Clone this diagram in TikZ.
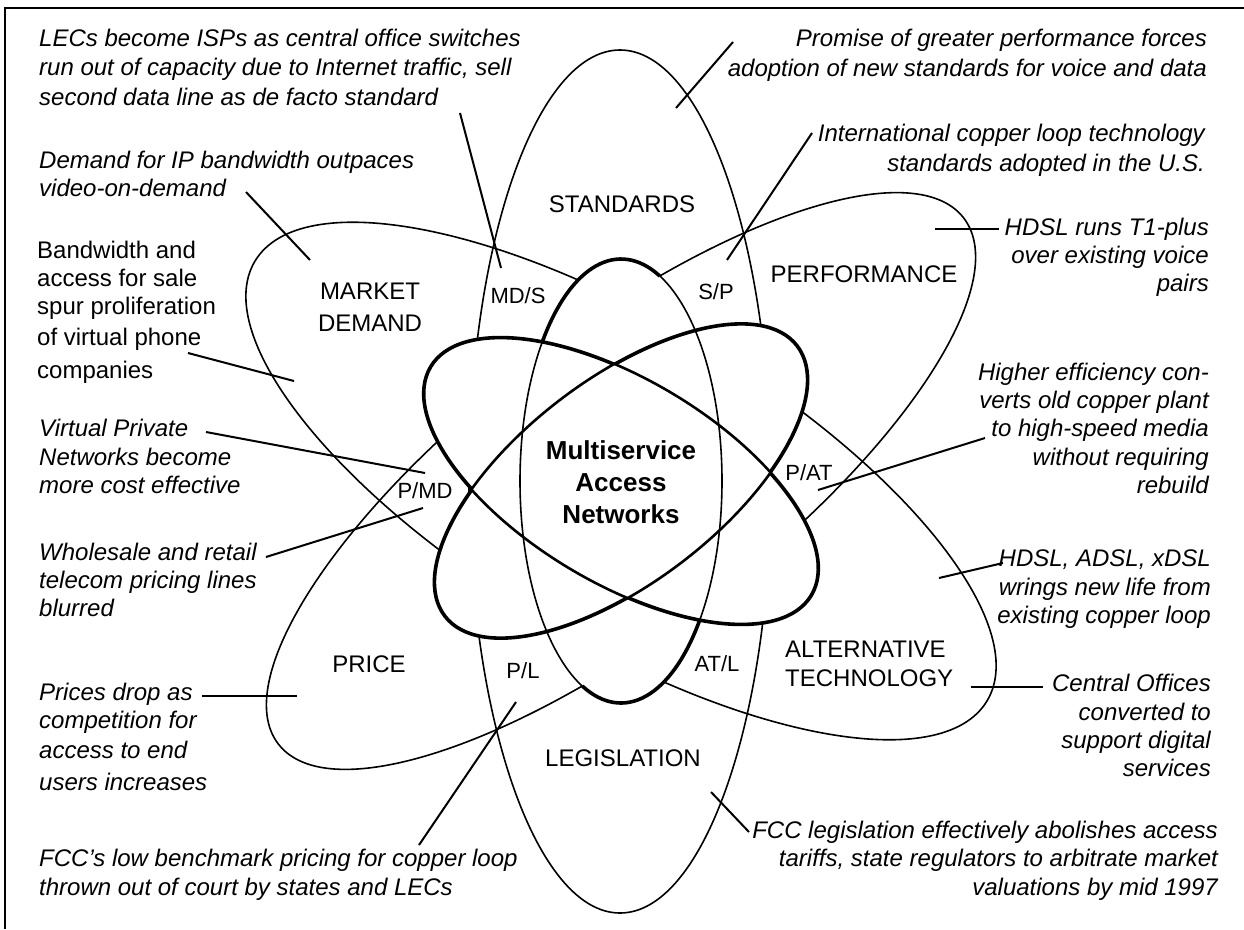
\documentclass[tikz,border=0pt]{standalone}
\usepackage{fontspec}
\setmainfont{Liberation Sans}
\begin{document}
\begin{tikzpicture}[x=1pt, y=-1pt,
  thinline/.style={line width=1.6pt},
  heavyline/.style={line width=3.6pt},
  leader/.style={line width=2pt},
  note/.style={inner sep=0pt, font=\fontsize{24}{29}\selectfont\itshape},
  remark/.style={inner sep=0pt, font=\fontsize{24}{29}\selectfont},
  field/.style={inner sep=0pt, anchor=base, font=\fontsize{24}{29}\selectfont},
  overlap/.style={inner sep=0pt, anchor=base, font=\fontsize{22}{26}\selectfont},
  hub/.style={inner sep=0pt, anchor=base, font=\fontsize{26}{32}\selectfont\bfseries},
  ringA/.style={shift={(621,481)}, rotate=-31},
  ringB/.style={shift={(621,481)}, rotate=37.5},
]
\useasboundingbox (0,0) rectangle (1244,929);
% frame
\draw[line width=2.5pt] (5,929) -- (5,8) -- (1244,8);

% outer rings: standards/legislation, market demand/alternative technology, performance/price
\draw[thinline] (620,481.5) ellipse [x radius=151, y radius=431.5];
\draw[thinline, ringA] (0,0) ellipse [x radius=427, y radius=159];
\draw[thinline, ringB] (0,0) ellipse [x radius=432, y radius=149];

% central atom: blank its area, heavy contour of the two slanted rings,
% thin crossings inside, heavy caps on the upright ring
\fill[white] (621,481) ellipse [x radius=101, y radius=222];
\fill[white, ringA] (0,0) ellipse [x radius=222, y radius=101];
\fill[white, ringB] (0,0) ellipse [x radius=222, y radius=101];
\draw[heavyline, ringA] (0,0) ellipse [x radius=222, y radius=101];
\draw[heavyline, ringB] (0,0) ellipse [x radius=222, y radius=101];
\begin{scope}
  \clip[ringA] (0,0) ellipse [x radius=222, y radius=101];
  \fill[white, ringB] (0,0) ellipse [x radius=222, y radius=101];
\end{scope}
\draw[heavyline] (621,481) ++(-141.3:101 and 222)
  arc [start angle=-141.3, end angle=-67.5, x radius=101, y radius=222];
\draw[heavyline] (621,481) ++(38.7:101 and 222)
  arc [start angle=38.7, end angle=112.5, x radius=101, y radius=222];
\draw[thinline] (621,481) ellipse [x radius=101, y radius=222];
\draw[thinline, ringA] (0,0) ellipse [x radius=222, y radius=101];
\draw[thinline, ringB] (0,0) ellipse [x radius=222, y radius=101];

% field labels
\node[field] (standards) at (622,212) {STANDARDS};
\node[field] (performance) at (864,282) {PERFORMANCE};
\node[field] (market) at (370,299) {MARKET};
\node[field] (demand) at (370,331) {DEMAND};
\node[field] (price) at (369,672) {PRICE};
\node[field] (legislation) at (623,766) {LEGISLATION};
\node[field, anchor=base west] (alternative) at (785,657) {ALTERNATIVE};
\node[field, anchor=base west] (technology) at (785,686) {TECHNOLOGY};

% overlap labels
\node[overlap] (mds) at (518,303) {MD/S};
\node[overlap] (sp) at (716,299) {S/P};
\node[overlap] (pmd) at (425,498) {P/MD};
\node[overlap] (pat) at (809,480) {P/AT};
\node[overlap] (pl) at (523,678) {P/L};
\node[overlap] (atl) at (717,671) {AT/L};

% hub
\node[hub] (hub1) at (621,459) {Multiservice};
\node[hub] (hub2) at (621,491) {Access};
\node[hub] (hub3) at (621,523) {Networks};

% notes on the left
\foreach \yy/\lineText [count=\k] in {46/{LECs become ISPs as central office switches}, 75/{run out of capacity due to Internet traffic, sell}, 105/{second data line as de facto standard}}
  \node[note, anchor=base west] (lecs\k) at (39,\yy) {\lineText};
\foreach \yy/\lineText [count=\k] in {168/{Demand for IP bandwidth outpaces}, 196/{video-on-demand}}
  \node[note, anchor=base west] (ipdemand\k) at (39,\yy) {\lineText};
\foreach \yy/\lineText [count=\k] in {258/{Bandwidth and}, 286/{access for sale}, 314/{spur proliferation}, 345/{of virtual phone}, 378/{companies}}
  \node[remark, anchor=base west] (resale\k) at (37,\yy) {\lineText};
\foreach \yy/\lineText [count=\k] in {436/{Virtual Private}, 465/{Networks become}, 493/{more cost effective}}
  \node[note, anchor=base west] (vpn\k) at (39,\yy) {\lineText};
\foreach \yy/\lineText [count=\k] in {560/{Wholesale and retail}, 588/{telecom pricing lines}, 616/{blurred}}
  \node[note, anchor=base west] (wholesale\k) at (39,\yy) {\lineText};
\foreach \yy/\lineText [count=\k] in {700/{Prices drop as}, 728/{competition for}, 758/{access to end}, 790/{users increases}}
  \node[note, anchor=base west] (prices\k) at (39,\yy) {\lineText};
\foreach \yy/\lineText [count=\k] in {866/{FCC’s low benchmark pricing for copper loop}, 895/{thrown out of court by states and LECs}}
  \node[note, anchor=base west] (benchmark\k) at (39,\yy) {\lineText};

% notes on the right
\foreach \yy/\lineText [count=\k] in {46/{Promise of greater performance forces}, 76/{adoption of new standards for voice and data}}
  \node[note, anchor=base east] (promise\k) at (1207,\yy) {\lineText};
\foreach \yy/\lineText [count=\k] in {141/{International copper loop technology}, 171/{standards adopted in the U.S.}}
  \node[note, anchor=base east] (intl\k) at (1205,\yy) {\lineText};
\foreach \yy/\lineText [count=\k] in {235/{HDSL runs T1-plus}, 263/{over existing voice}, 291/{pairs}}
  \node[note, anchor=base east] (hdsl\k) at (1209,\yy) {\lineText};
\foreach \yy/\lineText [count=\k] in {380/{Higher efficiency con-}, 408/{verts old copper plant}, 436/{to high-speed media}, 465/{without requiring}, 493/{rebuild}}
  \node[note, anchor=base east] (efficiency\k) at (1209,\yy) {\lineText};
\foreach \yy/\lineText [count=\k] in {566/{HDSL, ADSL, xDSL}, 595/{wrings new life from}, 623/{existing copper loop}}
  \node[note, anchor=base east] (xdsl\k) at (1211,\yy) {\lineText};
\foreach \yy/\lineText [count=\k] in {691/{Central Offices}, 720/{converted to}, 748/{support digital}, 776/{services}}
  \node[note, anchor=base east] (offices\k) at (1211,\yy) {\lineText};
\foreach \yy/\lineText [count=\k] in {838/{FCC legislation effectively abolishes access}, 866/{tariffs, state regulators to arbitrate market}, 895/{valuations by mid 1997}}
  \node[note, anchor=base east] (tariffs\k) at (1218,\yy) {\lineText};

% leader lines
\coordinate (lecs-a) at (460,113);       \coordinate (lecs-b) at (501,268);
\coordinate (ipdemand-a) at (246,192);   \coordinate (ipdemand-b) at (310,260);
\coordinate (resale-a) at (188,353);     \coordinate (resale-b) at (294,381);
\coordinate (vpn-a) at (206,432);        \coordinate (vpn-b) at (425,473);
\coordinate (wholesale-a) at (266,557);  \coordinate (wholesale-b) at (423,508);
\coordinate (prices-a) at (202,696);     \coordinate (prices-b) at (297,696);
\coordinate (benchmark-a) at (419,845);  \coordinate (benchmark-b) at (516,702);
\coordinate (promise-a) at (733,42);     \coordinate (promise-b) at (676,108);
\coordinate (intl-a) at (812,133);       \coordinate (intl-b) at (727,260);
\coordinate (hdsl-a) at (999,229);       \coordinate (hdsl-b) at (935,229);
\coordinate (efficiency-a) at (985,438); \coordinate (efficiency-b) at (818,490);
\coordinate (xdsl-a) at (1003,563);      \coordinate (xdsl-b) at (939,578);
\coordinate (offices-a) at (1043,687);   \coordinate (offices-b) at (971,687);
\coordinate (tariffs-a) at (749,832);    \coordinate (tariffs-b) at (711,792);
\foreach \n in {lecs, ipdemand, resale, vpn, wholesale, prices, benchmark,
                promise, intl, hdsl, efficiency, xdsl, offices, tariffs}
  \draw[leader] (\n-a) -- (\n-b);
\end{tikzpicture}
\end{document}
